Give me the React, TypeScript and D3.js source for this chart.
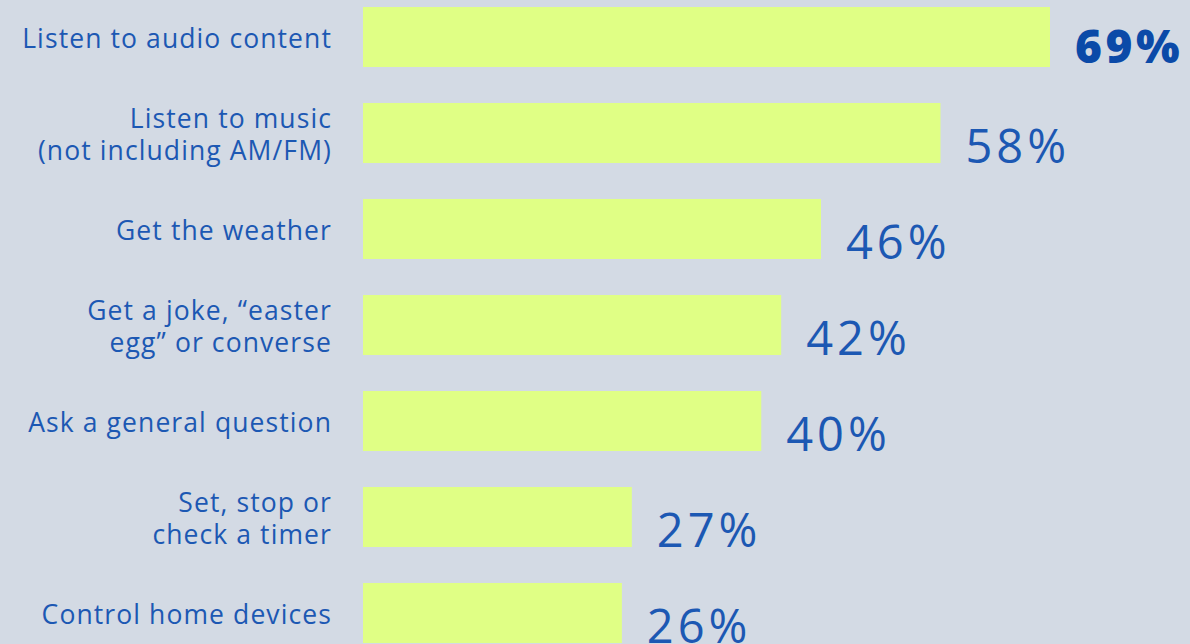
import React from "react";
import * as d3 from "d3";

const W = 1190;
const H = 644;

// survey activities, top to bottom
const categories = [
  "Listen to audio content",
  "Listen to music|(not including AM/FM)",
  "Get the weather",
  "Get a joke, \u201Ceaster|egg\u201D or converse",
  "Ask a general question",
  "Set, stop or|check a timer",
  "Control home devices",
];
const values = [69, 58, 46, 42, 40, 27, 26];

const BG = "#d3dae4";
const BAR = "#e0ff85";
const INK = "#1c58b3";
const FONT = "'Open Sans', Lato, sans-serif";

export default function App() {
  const x = d3.scaleLinear().domain([0, 69]).range([363, 1050]);
  const y = d3
    .scaleBand<string>()
    .domain(categories)
    .range([-11, -11 + categories.length * 96])
    .paddingInner(0.375)
    .paddingOuter(0.1875);

  return (
    <svg
      width={W}
      height={H}
      style={{ position: "absolute", left: 0, top: 0, display: "block" }}
      fontFamily={FONT}
    >
      <rect width={W} height={H} fill={BG} />
      {categories.map((c, i) => {
        const y0 = y(c)!;
        const cy = y0 + y.bandwidth() / 2;
        const lines = c.split("|");
        const first = cy + 11 - ((lines.length - 1) * 32) / 2;
        const top = i === 0;
        return (
          <g key={c}>
            <rect
              x={x(0)}
              y={y0}
              width={x(values[i]) - x(0)}
              height={y.bandwidth()}
              fill={BAR}
            />
            <text
              x={332}
              textAnchor="end"
              fontSize={26.5}
              letterSpacing={1.1}
              fill={INK}
            >
              {lines.map((l, k) => (
                <tspan key={k} x={332} y={first + k * 32}>
                  {l}
                </tspan>
              ))}
            </text>
            <text
              x={x(values[i]) + 25}
              y={top ? cy + 26 : cy + 30}
              fontSize={top ? 46 : 47}
              fontWeight={top ? 800 : 400}
              letterSpacing={top ? 3.5 : 4}
              fill={top ? "#0b4aa8" : INK}
            >
              {values[i]}%
            </text>
          </g>
        );
      })}
    </svg>
  );
}
